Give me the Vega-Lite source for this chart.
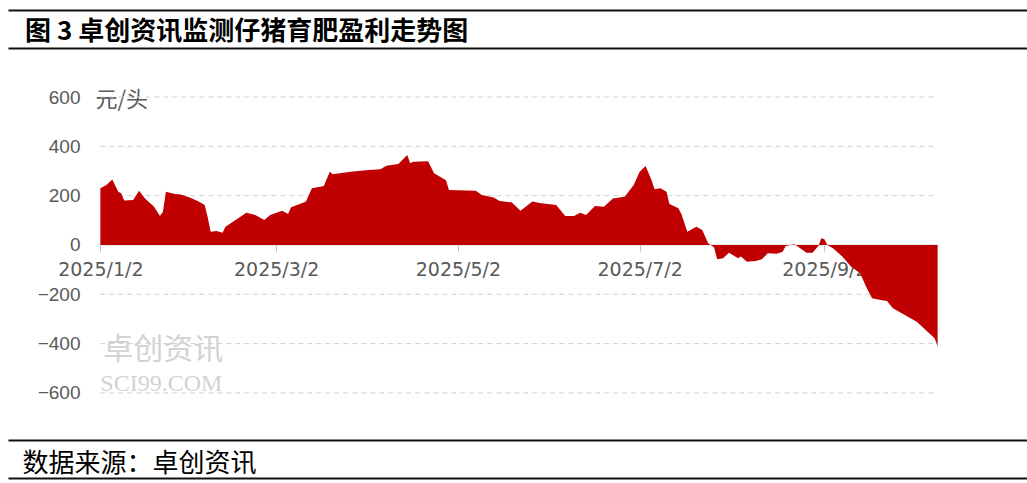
{
  "$schema": "https://vega.github.io/schema/vega-lite/v6.json",
  "width": 1019,
  "height": 468,
  "autosize": {"type": "none"},
  "padding": {"left": 8, "top": 10, "right": 0, "bottom": 5},
  "background": "white",
  "config": {"view": {"stroke": null}, "font": "Liberation Sans"},
  "title": {
    "text": "图 3 卓创资讯监测仔猪育肥盈利走势图",
    "anchor": "start",
    "frame": "group",
    "offset": -48,
    "dx": 17,
    "baseline": "middle",
    "font": "Noto Sans CJK SC",
    "fontSize": 26,
    "fontWeight": "bold",
    "color": "#000000"
  },
  "datasets": {
    "grid": [{"value": 600}, {"value": 400}, {"value": 200}, {"value": -200}, {"value": -400}, {"value": -600}],
    "zero": [{"value": 0}],
    "watermark": [{"cn": "卓创资讯", "en": "SCI99.COM"}],
    "profit": [
      {"date": "2025-01-02", "value": 230},
      {"date": "2025-01-04", "value": 243},
      {"date": "2025-01-06", "value": 266},
      {"date": "2025-01-08", "value": 216},
      {"date": "2025-01-09", "value": 210},
      {"date": "2025-01-10", "value": 180},
      {"date": "2025-01-13", "value": 182},
      {"date": "2025-01-15", "value": 220},
      {"date": "2025-01-17", "value": 189},
      {"date": "2025-01-20", "value": 155},
      {"date": "2025-01-22", "value": 118},
      {"date": "2025-01-23", "value": 135},
      {"date": "2025-01-24", "value": 216},
      {"date": "2025-01-27", "value": 207},
      {"date": "2025-01-29", "value": 205},
      {"date": "2025-02-01", "value": 193},
      {"date": "2025-02-04", "value": 176},
      {"date": "2025-02-06", "value": 162},
      {"date": "2025-02-07", "value": 115},
      {"date": "2025-02-08", "value": 54},
      {"date": "2025-02-10", "value": 57},
      {"date": "2025-02-12", "value": 50},
      {"date": "2025-02-13", "value": 74},
      {"date": "2025-02-16", "value": 98},
      {"date": "2025-02-20", "value": 131},
      {"date": "2025-02-23", "value": 122},
      {"date": "2025-02-26", "value": 101},
      {"date": "2025-02-28", "value": 122},
      {"date": "2025-03-04", "value": 139},
      {"date": "2025-03-06", "value": 126},
      {"date": "2025-03-07", "value": 153},
      {"date": "2025-03-11", "value": 171},
      {"date": "2025-03-12", "value": 176},
      {"date": "2025-03-14", "value": 230},
      {"date": "2025-03-18", "value": 239},
      {"date": "2025-03-20", "value": 297},
      {"date": "2025-03-21", "value": 287},
      {"date": "2025-03-27", "value": 297},
      {"date": "2025-04-02", "value": 304},
      {"date": "2025-04-06", "value": 307},
      {"date": "2025-04-08", "value": 321},
      {"date": "2025-04-12", "value": 328},
      {"date": "2025-04-15", "value": 365},
      {"date": "2025-04-16", "value": 331},
      {"date": "2025-04-17", "value": 338},
      {"date": "2025-04-22", "value": 340},
      {"date": "2025-04-24", "value": 291},
      {"date": "2025-04-28", "value": 263},
      {"date": "2025-04-29", "value": 223},
      {"date": "2025-05-08", "value": 220},
      {"date": "2025-05-10", "value": 203},
      {"date": "2025-05-14", "value": 193},
      {"date": "2025-05-16", "value": 178},
      {"date": "2025-05-20", "value": 173},
      {"date": "2025-05-21", "value": 162},
      {"date": "2025-05-23", "value": 139},
      {"date": "2025-05-27", "value": 176},
      {"date": "2025-05-30", "value": 169},
      {"date": "2025-06-04", "value": 162},
      {"date": "2025-06-07", "value": 118},
      {"date": "2025-06-10", "value": 118},
      {"date": "2025-06-12", "value": 131},
      {"date": "2025-06-14", "value": 122},
      {"date": "2025-06-17", "value": 158},
      {"date": "2025-06-20", "value": 155},
      {"date": "2025-06-23", "value": 189},
      {"date": "2025-06-27", "value": 196},
      {"date": "2025-06-30", "value": 243},
      {"date": "2025-07-02", "value": 297},
      {"date": "2025-07-04", "value": 320},
      {"date": "2025-07-06", "value": 263},
      {"date": "2025-07-07", "value": 226},
      {"date": "2025-07-09", "value": 230},
      {"date": "2025-07-11", "value": 216},
      {"date": "2025-07-12", "value": 166},
      {"date": "2025-07-15", "value": 149},
      {"date": "2025-07-16", "value": 126},
      {"date": "2025-07-18", "value": 54},
      {"date": "2025-07-21", "value": 74},
      {"date": "2025-07-23", "value": 61},
      {"date": "2025-07-25", "value": 7},
      {"date": "2025-07-27", "value": -10},
      {"date": "2025-07-28", "value": -58},
      {"date": "2025-07-30", "value": -54},
      {"date": "2025-08-01", "value": -31},
      {"date": "2025-08-04", "value": -54},
      {"date": "2025-08-05", "value": -47},
      {"date": "2025-08-07", "value": -68},
      {"date": "2025-08-10", "value": -65},
      {"date": "2025-08-12", "value": -58},
      {"date": "2025-08-14", "value": -34},
      {"date": "2025-08-17", "value": -36},
      {"date": "2025-08-19", "value": -27},
      {"date": "2025-08-20", "value": -4},
      {"date": "2025-08-23", "value": 3},
      {"date": "2025-08-25", "value": -14},
      {"date": "2025-08-27", "value": -31},
      {"date": "2025-08-29", "value": -31},
      {"date": "2025-08-31", "value": -4},
      {"date": "2025-09-01", "value": 27},
      {"date": "2025-09-02", "value": 23},
      {"date": "2025-09-03", "value": 0},
      {"date": "2025-09-05", "value": -14},
      {"date": "2025-09-08", "value": -47},
      {"date": "2025-09-11", "value": -88},
      {"date": "2025-09-14", "value": -115},
      {"date": "2025-09-16", "value": -169},
      {"date": "2025-09-18", "value": -216},
      {"date": "2025-09-21", "value": -223},
      {"date": "2025-09-23", "value": -227},
      {"date": "2025-09-25", "value": -257},
      {"date": "2025-09-29", "value": -284},
      {"date": "2025-10-03", "value": -311},
      {"date": "2025-10-06", "value": -345},
      {"date": "2025-10-09", "value": -378},
      {"date": "2025-10-10", "value": -412}
    ]
  },
  "layer": [
    {
      "data": {"name": "grid"},
      "mark": {"type": "rule", "color": "#D0D0D0", "strokeDash": [5, 4], "strokeWidth": 1},
      "encoding": {
        "y": {"field": "value", "type": "quantitative"},
        "x": {"datum": {"year": 2025, "month": 1, "date": 2, "utc": true}, "type": "temporal"},
        "x2": {"datum": {"year": 2025, "month": 10, "date": 10, "utc": true}}
      }
    },
    {
      "data": {"name": "zero"},
      "mark": {"type": "rule", "color": "#D9D9D9", "strokeWidth": 1},
      "encoding": {
        "y": {"field": "value", "type": "quantitative"},
        "x": {"datum": {"year": 2025, "month": 1, "date": 2, "utc": true}, "type": "temporal"},
        "x2": {"datum": {"year": 2025, "month": 10, "date": 10, "utc": true}}
      }
    },
    {
      "data": {"name": "watermark"},
      "mark": {"type": "text", "align": "left", "baseline": "middle", "font": "Noto Sans CJK SC", "fontSize": 30, "color": "#D3D3D3"},
      "encoding": {
        "text": {"field": "cn"},
        "x": {"datum": {"year": 2025, "month": 1, "date": 3, "utc": true}, "type": "temporal"},
        "y": {"datum": -425, "type": "quantitative"}
      }
    },
    {
      "data": {"name": "watermark"},
      "mark": {"type": "text", "align": "left", "baseline": "middle", "font": "Liberation Serif", "fontSize": 24, "color": "#D3D3D3"},
      "encoding": {
        "text": {"field": "en"},
        "x": {"datum": {"year": 2025, "month": 1, "date": 2, "utc": true}, "type": "temporal"},
        "y": {"datum": -562, "type": "quantitative"}
      }
    },
    {
      "data": {"name": "profit"},
      "mark": {"type": "area", "color": "#C00000", "interpolate": "linear"},
      "encoding": {
        "x": {
          "field": "date",
          "type": "temporal",
          "scale": {
            "type": "utc",
            "domain": [{"year": 2024, "month": 12, "date": 2, "utc": true}, {"year": 2025, "month": 11, "date": 9, "utc": true}]
          },
          "axis": {
            "values": [
              {"year": 2025, "month": 1, "date": 2, "utc": true},
              {"year": 2025, "month": 3, "date": 2, "utc": true},
              {"year": 2025, "month": 5, "date": 2, "utc": true},
              {"year": 2025, "month": 7, "date": 2, "utc": true},
              {"year": 2025, "month": 9, "date": 2, "utc": true}
            ],
            "labelExpr": "utcFormat(datum.value, '%Y/%-m/%-d')",
            "offset": -233,
            "domain": false,
            "ticks": true,
            "tickColor": "#BFBFBF",
            "tickSize": 6,
            "grid": false,
            "labelFont": "DejaVu Sans",
            "labelFontSize": 19,
            "labelColor": "#595959",
            "labelPadding": 9,
            "labelFlush": false,
            "labelOverlap": false,
            "title": "数据来源：卓创资讯",
            "titleX": 14,
            "titleY": 218,
            "titleAlign": "left",
            "titleAnchor": "start",
            "titleBaseline": "middle",
            "titleFont": "Noto Sans CJK SC",
            "titleFontSize": 26,
            "titleFontWeight": "normal",
            "titleColor": "#000000"
          }
        },
        "y": {
          "field": "value",
          "type": "quantitative",
          "scale": {"domain": [-945, 953], "nice": false, "zero": false},
          "axis": {
            "values": [953, 797, 600, 400, 200, 0, -200, -400, -600, -789, -945],
            "offset": -92,
            "domain": false,
            "ticks": false,
            "labelExpr": "abs(datum.value) > 700 ? '' : datum.label",
            "labelFont": "Liberation Sans",
            "labelFontSize": 19,
            "labelColor": "#595959",
            "labelPadding": 20,
            "grid": true,
            "gridColor": {"condition": {"test": "abs(datum.value) > 700", "value": "#111111"}, "value": "transparent"},
            "gridWidth": 2,
            "title": "元/头",
            "titleAngle": 0,
            "titleX": -5,
            "titleY": 89,
            "titleAlign": "left",
            "titleBaseline": "middle",
            "titleFont": "Noto Sans CJK SC",
            "titleFontSize": 22,
            "titleFontWeight": "normal",
            "titleColor": "#595959"
          }
        },
        "y2": {"datum": 0}
      }
    }
  ]
}
